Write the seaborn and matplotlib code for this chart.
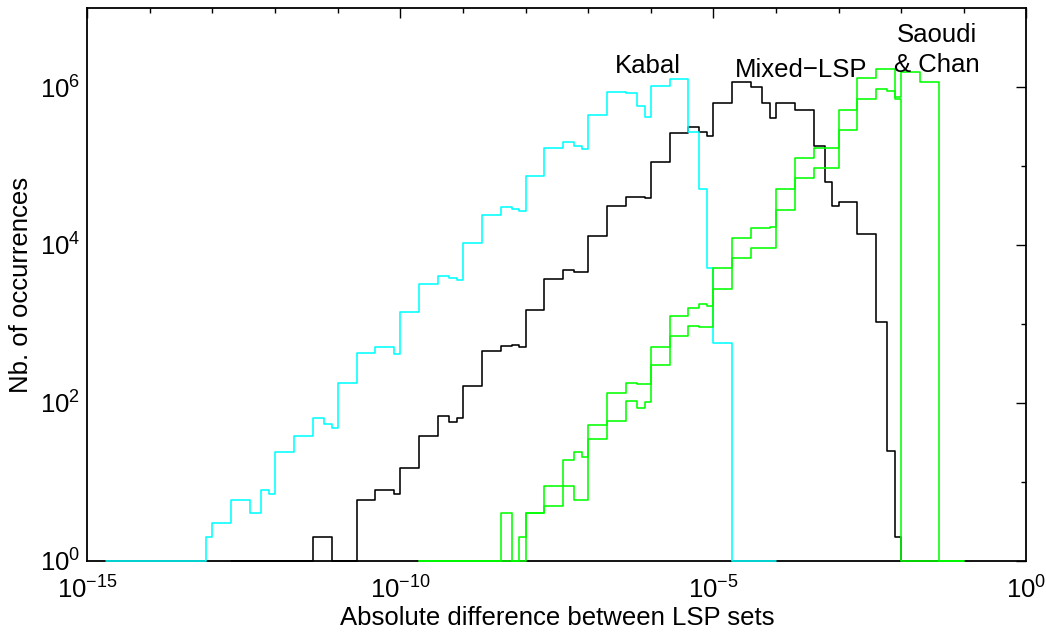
import numpy as np
import pandas as pd
import matplotlib
matplotlib.use("Agg")
import matplotlib.pyplot as plt
from matplotlib.ticker import NullFormatter
import seaborn as sns

# ---------------- data ----------------
# bin edges: within each decade the edges are at 1, 2, 4, 6, 8 x 10^k
bin_mults = [1, 2, 4, 6, 8]
first_decade, last_decade = -15, 0

# Kabal (cyan): first bin edge 2e-15, counts per bin
kabal_start = 2e-15
kabal_counts = [
    0, 0, 0, 0,                                  # 2e-15 .. 1e-14
    0, 0, 0, 0, 2,                               # 1e-14 ..
    3, 6, 4, 8, 7,                               # 1e-13 ..
    24, 38, 65, 55, 48,                          # 1e-12 ..
    181, 425, 507, 507, 413,                     # 1e-11 ..
    1406, 3170, 4050, 3790, 3600,                # 1e-10 ..
    10600, 24200, 30300, 28400, 26900,           # 1e-9 ..
    75400, 167500, 199000, 179000, 166000,       # 1e-8 ..
    442000, 865000, 832000, 573000, 421000,      # 1e-7 ..
    1030000, 1250000, 272000, 51000, 5070,       # 1e-6 ..
    569, 0, 0, 0, 0,                             # 1e-5 .. 1e-4
]

# Mixed-LSP (black)
mixed_start = 2e-13
mixed_counts = [
    0, 0, 0, 0,                                  # 2e-13 .. 1e-12
    0, 0, 2, 2, 0,                               # 1e-12 ..
    0, 6, 8, 8, 7,                               # 1e-11 ..
    15, 38, 68, 58, 65,                          # 1e-10 ..
    164, 455, 531, 542, 507,                     # 1e-9 ..
    1500, 3680, 4830, 4590, 4590,                # 1e-8 ..
    13000, 31400, 40900, 40100, 38900,           # 1e-7 ..
    113000, 264000, 309000, 272000, 242000,      # 1e-6 ..
    622000, 1150000, 991000, 622000, 402000,     # 1e-5 ..
    622000, 512000, 179000, 63300, 31200,        # 1e-4 ..
    34700, 13600, 1070, 25, 2,                   # 1e-3 .. 1e-2
]

# Saoudi & Chan (green), two variants
saoudi_start = 2e-10
saoudi_a_counts = [
    0, 0, 0, 0,                                  # 2e-10 .. 1e-9
    0, 0, 0, 0, 0,                               # 1e-9 ..
    4, 5, 19, 24, 21,                            # 1e-8 ..
    52, 133, 181, 173, 173,                      # 1e-7 ..
    507, 1270, 1580, 1790, 1690,                 # 1e-6 ..
    5070, 12400, 16600, 16600, 17000,            # 1e-5 ..
    50700, 127000, 171000, 171000, 171000,       # 1e-4 ..
    512000, 1290000, 1690000, 1690000, 753000,   # 1e-3 ..
    1560000, 1150000, 0, 0, 0,                   # 1e-2 .. 1e-1
]
saoudi_b_counts = [
    0, 0, 0, 0,                                  # 2e-10 .. 1e-9
    0, 0, 4, 0, 2,                               # 1e-9 ..
    4, 9, 9, 6, 6,                               # 1e-8 ..
    35, 59, 106, 86, 104,                        # 1e-7 ..
    305, 711, 952, 925, 925,                     # 1e-6 ..
    2750, 6900, 9250, 9250, 9100,                # 1e-5 ..
    27700, 69800, 93400, 93400, 93400,           # 1e-4 ..
    285000, 698000, 935000, 898000, 698000,      # 1e-3 ..
    0, 0, 0, 0, 0,                               # 1e-2 .. 1e-1
]

x_major = [1e-15, 1e-10, 1e-5, 1e0]
y_major = [1e0, 1e2, 1e4, 1e6]

labels = {"Kabal": (10**-6.043, 10**6.177),
          "Mixed\u2212LSP": (10**-3.602, 10**6.130)}
saoudi_label = "Saoudi\n& Chan"

# ---------------- build steps ----------------
all_edges = np.array([m * 10.0**k for k in range(first_decade, last_decade)
                      for m in bin_mults] + [10.0**last_decade])


def step_frame(name, start, counts):
    i0 = int(np.argmin(np.abs(np.log10(all_edges) - np.log10(start))))
    edges = all_edges[i0:i0 + len(counts) + 1]
    y = np.append(np.asarray(counts, float), 0.0)
    y = np.maximum(y, 1.0)   # empty bins lie on the axis floor (10^0)
    return pd.DataFrame({"x": edges, "y": y, "series": name})


df = pd.concat([
    step_frame("mixed", mixed_start, mixed_counts),
    step_frame("kabal", kabal_start, kabal_counts),
    step_frame("saoudi_b", saoudi_start, saoudi_b_counts),
    step_frame("saoudi_a", saoudi_start, saoudi_a_counts),
], ignore_index=True)

palette = {"kabal": "#00ffff", "mixed": "#000000",
           "saoudi_a": "#00ff00", "saoudi_b": "#00ff00"}

# ---------------- style ----------------
sns.set_style("white")
plt.rcParams["font.family"] = ["Liberation Sans", "DejaVu Sans"]
plt.rcParams["mathtext.fontset"] = "custom"
plt.rcParams["mathtext.rm"] = "Liberation Sans"
plt.rcParams["mathtext.it"] = "Liberation Sans:italic"
plt.rcParams["mathtext.bf"] = "Liberation Sans:bold"
for key in ["text.color", "axes.labelcolor", "xtick.color", "ytick.color",
            "axes.edgecolor"]:
    plt.rcParams[key] = "black"
FS = 18.5

fig = plt.figure(figsize=(10.46, 6.34), dpi=100)
ax = fig.add_axes([87.3 / 1046, 1 - 561 / 634, 939 / 1046, 553 / 634])
ax.set_xscale("log")
ax.set_yscale("log")

sns.lineplot(data=df, x="x", y="y", hue="series", palette=palette,
             units="series", estimator=None, sort=False, legend=False,
             drawstyle="steps-post", linewidth=1.15, zorder=3,
             clip_on=False, ax=ax)

ax.set_xlim(1e-15, 1e0)
ax.set_ylim(1e0, 1e7)

ax.set_xticks(x_major)
ax.set_xticks([10.0**k for k in range(-15, 1)], minor=True)
ax.set_yticks(y_major)
ax.set_yticks([1e1, 1e3, 1e5], minor=True)
ax.xaxis.set_minor_formatter(NullFormatter())
ax.yaxis.set_minor_formatter(NullFormatter())

ax.tick_params(which="both", direction="in", top=True, right=True,
               color="black", labelcolor="black", width=1.0, labelsize=FS)
ax.tick_params(which="major", length=7)
ax.tick_params(which="minor", length=3.4)
ax.tick_params(axis="x", which="major", pad=11)
ax.tick_params(axis="y", which="major", pad=5)

for sp in ax.spines.values():
    sp.set_color("black")
    sp.set_linewidth(1.3)
    sp.set_zorder(2.5)

ax.set_xlabel("Absolute difference between LSP sets", fontsize=FS,
              color="black")
ax.set_ylabel("Nb. of occurrences", fontsize=FS, color="black")
ax.xaxis.set_label_coords(0.5, (561 - 606) / 553)
ax.yaxis.set_label_coords((33.5 - 87.3) / 939, 0.5)

for txt, (tx, ty) in labels.items():
    ax.text(tx, ty, txt, ha="center", va="baseline", fontsize=FS,
            color="black", zorder=5)
ax.text(10**-1.427, 10**((561 - 23.3) / 79), saoudi_label, ha="center",
        va="top", multialignment="center", linespacing=1.3, fontsize=FS,
        color="black", zorder=5)

fig.savefig("out.png", dpi=100)
